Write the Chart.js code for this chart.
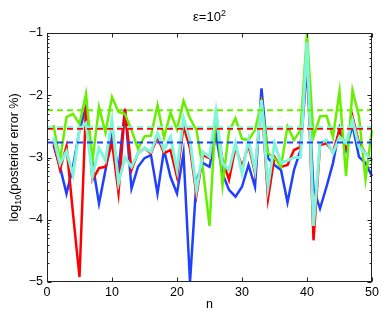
<!DOCTYPE html>
<html><head><meta charset="utf-8">
<script src="https://cdn.jsdelivr.net/npm/chart.js@4.4.0/dist/chart.umd.min.js"></script>
<style>html,body{margin:0;padding:0;background:#fff}#wrap{width:382px;height:317px}</style>
</head><body><div id="wrap"><canvas id="c" width="382" height="317"></canvas></div>
<script>
const nValues = [1,2,3,4,5,6,7,8,9,10,11,12,13,14,15,16,17,18,19,20,21,22,23,24,25,26,27,28,29,30,31,32,33,34,35,36,37,38,39,40,41,42,43,44,45,46,47,48,49,50];
const redErr = [-2.75,-3.19,-2.82,-3.9,-4.92,-2.17,-3.36,-3.17,-3.15,-2.75,-3.57,-2.22,-3.2,-2.93,-2.85,-2.93,-2.67,-2.93,-2.88,-3.31,-2.5,-2.85,-3.6,-2.96,-3.01,-2.4,-3.04,-3.36,-2.83,-3.15,-2.8,-3.25,-2.05,-3.66,-2.99,-3.15,-3.12,-2.88,-2.83,-1.3,-4.33,-2.8,-2.77,-2.91,-2.56,-2.83,-2.34,-2.77,-2.93,-3.04];
const blueErr = [-2.8,-3.15,-3.58,-3.15,-2.56,-2.19,-3.09,-3.74,-3.2,-2.64,-3.2,-2.22,-3.5,-3.15,-3.01,-2.96,-3.58,-2.88,-3.31,-3.58,-2.93,-5.0,-3.36,-3.09,-3.15,-2.64,-3.26,-3.52,-3.63,-3.47,-3.12,-3.47,-1.89,-3.01,-3.12,-3.2,-3.72,-3.2,-2.88,-1.55,-3.5,-3.82,-3.47,-3.09,-2.53,-2.88,-2.48,-2.99,-3.09,-3.3];
const greenErr = [-2.48,-3.05,-2.35,-2.3,-2.46,-1.98,-3.05,-2.19,-2.6,-2.03,-2.27,-2.3,-2.56,-2.86,-2.66,-2.65,-2.16,-2.68,-2.28,-2.55,-2.09,-2.37,-2.56,-3.2,-4.1,-2.21,-3.45,-2.58,-2.37,-2.7,-2.72,-2.56,-2.12,-2.93,-3.01,-3.15,-2.5,-2.72,-2.56,-1.0,-2.67,-2.34,-2.33,-2.67,-1.94,-3.3,-1.92,-2.34,-3.35,-2.56];
const cyanErr = [-2.68,-3.1,-2.9,-3.28,-2.55,-2.45,-3.3,-2.85,-3.05,-2.4,-3.41,-3.0,-3.15,-2.93,-2.85,-2.91,-2.61,-2.88,-2.67,-3.2,-2.37,-2.72,-3.52,-2.91,-2.99,-2.26,-3.09,-3.2,-2.77,-3.25,-2.72,-3.2,-2.08,-3.47,-2.77,-3.09,-3.05,-3.0,-3.0,-1.15,-4.1,-2.77,-2.72,-2.93,-2.67,-2.77,-2.4,-2.83,-2.93,-3.07];
const meanLevels = [-2.54, -2.76, -2.24, -2.51]; // red, blue, green, cyan
const xRange = [0, 50];
const xTicks = [0, 10, 20, 30, 40, 50];
const yTicks = [-5, -4, -3, -2, -1];

const colors = { red: '#ff0000', blue: '#2040ff', green: '#66f000', cyan: '#7ff5dc' };
const pts = arr => nValues.map((n, i) => ({ x: n, y: arr[i] }));
const flat = v => xRange.map(x => ({ x: x, y: v }));

const solid = (data, color, order, w) => ({
  data: pts(data), borderColor: color, borderWidth: w, pointRadius: 0, fill: false,
  tension: 0, order: order, borderJoinStyle: 'miter', clip: 2
});
const dashed = (v, color, order) => ({
  data: flat(v), borderColor: color, borderWidth: 2, borderDash: [6, 4], pointRadius: 0,
  fill: false, order: order
});

const fontFam = '"Liberation Sans", Arial, Helvetica, sans-serif';

// draws text parts [{t, size, dy}] starting at x (left), baseline y
function richText(ctx, parts, cx, y) {
  let total = 0;
  parts.forEach(p => { ctx.font = p.size + 'px ' + fontFam; p.w = ctx.measureText(p.t).width; total += p.w; });
  let x = cx - total / 2;
  ctx.textBaseline = 'alphabetic';
  ctx.textAlign = 'left';
  parts.forEach(p => { ctx.font = p.size + 'px ' + fontFam; ctx.fillText(p.t, x, y + p.dy); x += p.w; });
}

const framePlugin = {
  id: 'frame',
  afterDraw(chart) {
    const ctx = chart.ctx, a = chart.chartArea;
    const xs = chart.scales.x, ys = chart.scales.y;
    ctx.save();
    ctx.strokeStyle = '#222';
    ctx.lineWidth = 1;
    const L = Math.round(a.left) + 0.5, R = Math.round(a.right) - 0.5;
    const T = Math.round(a.top) + 0.5, B = Math.round(a.bottom) - 0.5;
    ctx.strokeRect(L, T, R - L, B - T);
    ctx.beginPath();
    xTicks.forEach(v => {
      const p = Math.round(xs.getPixelForValue(v)) + 0.5;
      ctx.moveTo(p, B); ctx.lineTo(p, B - 4);
      ctx.moveTo(p, T); ctx.lineTo(p, T + 4);
    });
    yTicks.forEach(v => {
      const p = Math.round(ys.getPixelForValue(v)) + 0.5;
      ctx.moveTo(L, p); ctx.lineTo(L + 4, p);
      ctx.moveTo(R, p); ctx.lineTo(R - 4, p);
    });
    for (let k = -5; k < -1; k++) {
      for (let m = 2; m <= 9; m++) {
        const v = k + Math.log10(m);
        const p = Math.round(ys.getPixelForValue(v)) + 0.5;
        ctx.moveTo(L, p); ctx.lineTo(L + 2, p);
        ctx.moveTo(R, p); ctx.lineTo(R - 2, p);
      }
    }
    ctx.stroke();

    // title
    ctx.fillStyle = '#000';
    richText(ctx, [{ t: 'ε=10', size: 13, dy: 0 }, { t: '2', size: 9, dy: -5 }], (a.left + a.right) / 2, 21);
    // y-axis label
    ctx.save();
    ctx.translate(18, (a.top + a.bottom) / 2);
    ctx.rotate(-Math.PI / 2);
    richText(ctx, [{ t: 'log', size: 12.5, dy: 0 }, { t: '10', size: 9, dy: 3 }, { t: '(posterior error %)', size: 12.5, dy: 0 }], 0, 0);
    ctx.restore();
    ctx.restore();
  }
};

new Chart(document.getElementById('c'), {
  type: 'line',
  data: {
    datasets: [
      dashed(meanLevels[3], colors.cyan, 0),
      dashed(meanLevels[0], colors.red, 1),
      dashed(meanLevels[1], colors.blue, 0),
      dashed(meanLevels[2], colors.green, 0),
      solid(cyanErr, colors.cyan, 2, 3),
      solid(greenErr, colors.green, 3, 2.5),
      solid(redErr, colors.red, 4, 2.5),
      solid(blueErr, colors.blue, 5, 2.5)
    ]
  },
  options: {
    responsive: false, animation: false, devicePixelRatio: 1,
    layout: { padding: { left: 0, right: 10, top: 33, bottom: 0 } },
    plugins: { legend: { display: false }, tooltip: { enabled: false }, title: { display: false } },
    scales: {
      x: {
        type: 'linear', min: xRange[0], max: xRange[1],
        afterBuildTicks: s => { s.ticks = xTicks.map(v => ({ value: v })); },
        afterFit: s => { s.height = 35; },
        ticks: { padding: 3, color: '#000', font: { size: 12.5, family: fontFam }, maxRotation: 0 },
        grid: { display: false, drawTicks: false }, border: { display: false },
        title: { display: true, text: 'n', color: '#000', font: { size: 12.5, family: fontFam }, padding: { top: 0, bottom: 5 } }
      },
      y: {
        type: 'linear', min: yTicks[0], max: yTicks[yTicks.length - 1],
        afterBuildTicks: s => { s.ticks = yTicks.map(v => ({ value: v })); },
        afterFit: s => { s.width = 47; },
        ticks: { padding: 4, color: '#000', font: { size: 12.5, family: fontFam },
          callback: v => (v < 0 ? '\u2212' + Math.abs(v) : String(v)) },
        grid: { display: false, drawTicks: false }, border: { display: false },
        title: { display: false }
      }
    }
  },
  plugins: [framePlugin]
});
</script></body></html>
